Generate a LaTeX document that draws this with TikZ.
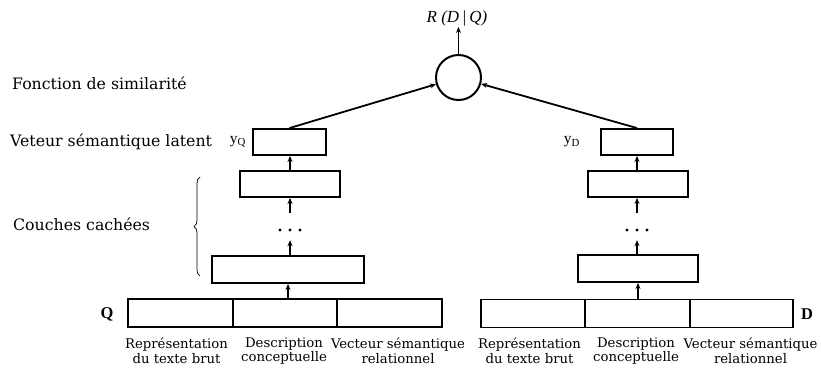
\documentclass[tikz,border=0pt]{standalone}
\usepackage{fontspec}
\setmainfont{DejaVu Serif}
\newfontfamily\tnr{Liberation Serif}
\usetikzlibrary{arrows.meta,positioning,decorations.pathreplacing}

\tikzset{
  layer/.style={draw, line width=1.9bp, minimum height=26bp, inner sep=0pt},
  cell/.style={layer, minimum height=28bp},
  up/.style={-{Stealth[length=6bp,width=5bp]}, line width=1.8bp},
  capt/.style={align=center, inner sep=0pt, font=\fontsize{13.3}{15}\selectfont},
  side/.style={anchor=west, inner sep=0pt, font=\fontsize{15.8}{18}\selectfont},
  dotsbox/.style={minimum width=24bp, minimum height=27bp, inner sep=0pt},
  ylab/.style={inner sep=0pt, font=\tnr\fontsize{15.5}{18}\selectfont},
  inlab/.style={inner sep=0pt, font=\tnr\bfseries\fontsize{16.5}{18}\selectfont},
}

\begin{document}
\begin{tikzpicture}[x=1bp,y=-1bp]
    \useasboundingbox (0,0) rectangle (821,374);

    % Beschriftungen links
    \node[side] (fsim) at (12,83) {Fonction de similarité};
    \node[side] (vsem) at (10,142) {Veteur sémantique latent};
    \node[side] (ccach) at (13,224) {Couches cachées};
    \draw[line width=0.7bp, decorate, decoration={brace, amplitude=6bp}]
        (200,276) -- (200,177);

    % Turm Q
    \node[cell, minimum width=105bp] (q1) at (180.5,313) {};
    \node[cell, minimum width=104bp] (q2) at (285,313) {};
    \node[cell, minimum width=105bp] (q3) at (389.5,313) {};
    \node[inlab] (qin) at (107,314) {Q};
    \node[layer, minimum width=152bp, minimum height=27bp] (qh1) at (288,269.5) {};
    \node[dotsbox] (qdots) at (290,226.5) {};
    \node[layer, minimum width=100bp] (qh2) at (290,184) {};
    \node[layer, minimum width=73bp] (qy) at (289.5,142) {};
    \node[ylab, left=6bp of qy] (yq) {y\textsubscript{Q}};

    % Turm D
    \node[cell, minimum width=104bp] (d1) at (533,313.5) {};
    \node[cell, minimum width=105bp] (d2) at (637.5,313.5) {};
    \node[cell, minimum width=103bp] (d3) at (741.5,313.5) {};
    \node[inlab] (din) at (807,314) {D};
    \node[layer, minimum width=120bp, minimum height=27bp] (dh1) at (638,268.5) {};
    \node[dotsbox] (ddots) at (637,226.5) {};
    \node[layer, minimum width=100bp] (dh2) at (638,184) {};
    \node[layer, minimum width=72bp] (dy) at (637,142) {};
    \node[ylab, left=20bp of dy] (yd) {y\textsubscript{D}};

    % Punkte
    \foreach \t in {qdots,ddots}
        \foreach \dx in {-10,0,10}
            \fill ([xshift=\dx bp, yshift=-3.5bp]\t.center) circle (1.6bp);

    % Aehnlichkeit
    \node[draw, circle, line width=2bp, minimum size=45bp, inner sep=0pt] (sim) at (458.5,77.5) {};
    \node[above, inner sep=1bp, font=\tnr\itshape\fontsize{17}{18}\selectfont] (rdq) at (457,27) {R (D\,|\,Q)};

    % Pfeile
    \draw[up] (q2.north -| qh1.south) -- (qh1.south);
    \draw[up] (qh1.north -| qdots.south) -- (qdots.south);
    \draw[up] (qdots.north) -- (qh2.south);
    \draw[up] (qh2.north) -- (qh2.north |- qy.south);
    \draw[up] (d2.north -| dh1.south) -- (dh1.south);
    \draw[up] (dh1.north -| ddots.south) -- (ddots.south);
    \draw[up] (ddots.north) -- (dh2.south -| ddots.north);
    \draw[up] (dh2.north -| dy.south) -- (dy.south);
    \draw[up] (qy.north) -- (sim);
    \draw[up] (dy.north) -- (sim);
    \draw[up] (sim.north) -- (rdq.south -| sim.north);

    % Eingaben
    \node[capt] (qc1) at (176.5,351) {Représentation\\du texte brut};
    \node[capt] (qc2) at (284,351) {Description\\conceptuelle};
    \node[capt] (qc3) at (398,351) {Vecteur sémantique\\relationnel};
    \node[capt] (dc1) at (529.5,351) {Représentation\\du texte brut};
    \node[capt] (dc2) at (636,351) {Description\\conceptuelle};
    \node[capt] (dc3) at (750.5,351) {Vecteur sémantique\\relationnel};
\end{tikzpicture}
\end{document}
